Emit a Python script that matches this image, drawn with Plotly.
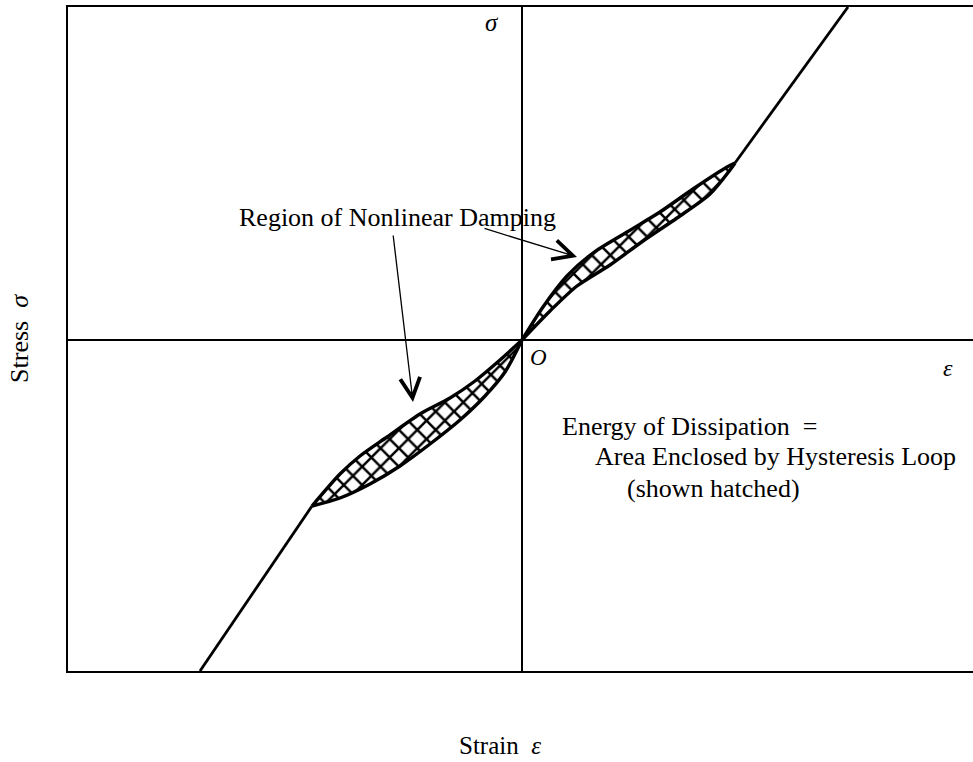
import plotly.graph_objects as go

# Stress-strain curve of a material with nonlinear damping (strain, stress)
# Linear elastic branches
lower_line_strain = [-3.22, -2.10]
lower_line_stress = [-3.31, -1.66]
upper_line_strain = [2.13, 3.26]
upper_line_stress = [1.77, 3.33]

# Hysteresis loop in compression: upper and lower branches
loop1_top_strain = [-2.10, -1.82, -1.62, -1.35, -1.02, -0.72, -0.47, -0.22, 0.0]
loop1_top_stress = [-1.66, -1.34, -1.16, -0.97, -0.74, -0.58, -0.41, -0.20, 0.0]
loop1_bot_strain = [-2.10, -1.82, -1.52, -1.22, -0.92, -0.62, -0.37, -0.17, 0.0]
loop1_bot_stress = [-1.66, -1.58, -1.44, -1.26, -1.04, -0.80, -0.56, -0.32, 0.0]

# Hysteresis loop in tension
loop2_top_strain = [0.0, 0.21, 0.45, 0.71, 1.05, 1.38, 1.71, 2.05, 2.13]
loop2_top_stress = [0.0, 0.33, 0.64, 0.87, 1.08, 1.28, 1.51, 1.73, 1.77]
loop2_bot_strain = [0.0, 0.28, 0.55, 0.88, 1.21, 1.55, 1.88, 2.08, 2.13]
loop2_bot_stress = [0.0, 0.29, 0.54, 0.75, 0.99, 1.22, 1.46, 1.70, 1.77]

SERIF = "Liberation Serif, Times New Roman, serif"

fig = go.Figure()

# Hatched area enclosed by each loop
for top_x, top_y, bot_x, bot_y in [
    (loop1_top_strain, loop1_top_stress, loop1_bot_strain, loop1_bot_stress),
    (loop2_top_strain, loop2_top_stress, loop2_bot_strain, loop2_bot_stress),
]:
    fig.add_trace(go.Scatter(
        x=top_x + bot_x[::-1], y=top_y + bot_y[::-1],
        mode="lines", fill="toself", fillcolor="white",
        fillpattern=dict(shape="x", size=13, solidity=0.35,
                         fgcolor="black", fgopacity=1, bgcolor="white"),
        line=dict(width=0, color="black", shape="spline", smoothing=0.8),
        hoverinfo="skip", showlegend=False,
    ))

# Curve outlines
for xs, ys, w in [
    (lower_line_strain, lower_line_stress, 2.8),
    (upper_line_strain, upper_line_stress, 2.8),
    (loop1_top_strain, loop1_top_stress, 3.4),
    (loop1_bot_strain, loop1_bot_stress, 3.4),
    (loop2_top_strain, loop2_top_stress, 3.4),
    (loop2_bot_strain, loop2_bot_stress, 3.4),
]:
    fig.add_trace(go.Scatter(
        x=xs, y=ys, mode="lines",
        line=dict(color="black", width=w, shape="spline", smoothing=0.8),
        hoverinfo="skip", showlegend=False,
    ))

text_font = dict(family=SERIF, size=26, color="black")

annotations = [
    dict(x=-2.85, y=1.23, text="Region of Nonlinear Damping", xanchor="left",
         yanchor="middle", showarrow=False, font=text_font),
    dict(x=-1.09, y=-0.62, ax=-1.29, ay=1.06, axref="x", ayref="y", text="",
         showarrow=True, arrowhead=5, arrowsize=3, arrowwidth=1.3, arrowcolor="black"),
    dict(x=0.55, y=0.83, ax=-0.39, ay=1.12, axref="x", ayref="y", text="",
         showarrow=True, arrowhead=5, arrowsize=3, arrowwidth=1.3, arrowcolor="black"),
    dict(x=0.38, y=-0.86, text="Energy of Dissipation  =", xanchor="left",
         yanchor="middle", showarrow=False, font=text_font),
    dict(x=0.71, y=-1.16, text="Area Enclosed by Hysteresis Loop", xanchor="left",
         yanchor="middle", showarrow=False, font=text_font),
    dict(x=1.03, y=-1.48, text="(shown hatched)", xanchor="left",
         yanchor="middle", showarrow=False, font=text_font),
    dict(x=-0.30, y=3.18, text="<i>σ</i>", showarrow=False,
         font=dict(family=SERIF, size=25, color="black")),
    dict(x=0.16, y=-0.17, text="<i>O</i>", showarrow=False,
         font=dict(family=SERIF, size=23, color="black")),
    dict(x=4.26, y=-0.28, text="<i>ε</i>", showarrow=False,
         font=dict(family=SERIF, size=24, color="black")),
    # strain axis caption below the frame
    dict(x=-0.22, y=-0.112, yref="paper", text="Strain  <i>ε</i>", showarrow=False,
         xanchor="center", yanchor="middle",
         font=dict(family=SERIF, size=25, color="black")),
]

axis_common = dict(
    showgrid=False, showticklabels=False, ticks="",
    zeroline=True, zerolinecolor="black", zerolinewidth=2,
    showline=True, linecolor="black", linewidth=2,
)

fig.update_layout(
    width=973, height=762,
    margin=dict(l=68, r=0, t=7, b=91),
    paper_bgcolor="white", plot_bgcolor="white",
    xaxis=dict(range=[-4.54, 4.51], mirror=True, automargin=False, **axis_common),
    yaxis=dict(range=[-3.31, 3.33],
               title=dict(text="Stress  <i>σ</i>", standoff=30,
                          font=dict(family=SERIF, size=26, color="black")),
               automargin=False, **axis_common),
    annotations=annotations,
    showlegend=False,
)

fig.write_html("out.html")
